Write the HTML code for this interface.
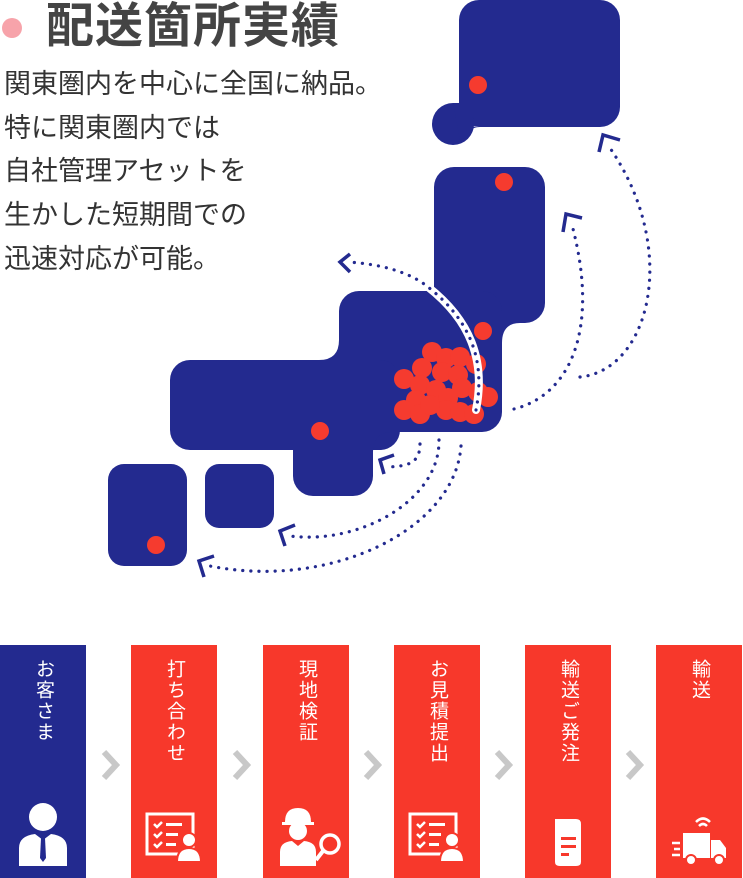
<!DOCTYPE html>
<html><head><meta charset="utf-8"><style>
body{margin:0;width:743px;height:878px;background:#fff;position:relative;overflow:hidden;font-family:"Liberation Sans","Noto Sans CJK JP",sans-serif}
.t{position:absolute;left:46px;top:-2px;font-size:48px;font-weight:bold;color:#444;line-height:58px;letter-spacing:1px}
.dot{position:absolute;left:2px;top:18px;width:20px;height:20px;border-radius:50%;background:#f7a3aa}
.p{position:absolute;left:4px;top:63px;font-size:27px;line-height:43.7px;color:#333}
.box{position:absolute;top:645px;width:86px;height:233px;background:#f7382b}
.box .v{position:absolute;top:14px;left:0;width:86px;text-align:center;color:#fff;font-size:19px;writing-mode:vertical-rl;line-height:86px;letter-spacing:2px}
.box svg{position:absolute;left:13px;top:155px}
.ch{position:absolute;top:748px;width:24px;height:34px}
</style></head><body>
<div class="dot"></div>
<div class="t">配送箇所実績</div>
<div class="p">関東圏内を中心に全国に納品。<br>特に関東圏内では<br>自社管理アセットを<br>生かした短期間での<br>迅速対応が可能。</div>

<svg width="743" height="640" style="position:absolute;left:0;top:0">
<g fill="#232a8f">
<rect x="459" y="0" width="161" height="127" rx="20"/>
<circle cx="453" cy="124" r="21"/>
<path d="M453 103 H470 V127 H480 Q470 127 470 135 L460 140Z"/>
<rect x="434" y="167" width="111" height="156" rx="20"/>
<rect x="434" y="290" width="68" height="60"/>
<path d="M502 323 H520 Q502 323 502 343Z"/>
<rect x="339" y="291" width="163" height="141" rx="20"/>
<path d="M339 340 V360 H319 Q339 360 339 340Z"/>
<rect x="170" y="360" width="230" height="90" rx="20"/>
<rect x="293" y="400" width="80" height="96" rx="20"/>
<rect x="293" y="400" width="120" height="32"/>
<path d="M373 432 V452 Q373 432 393 432Z"/>
<rect x="108" y="464" width="79" height="102" rx="16"/>
<rect x="205" y="464" width="69" height="64" rx="14"/>
</g>
<g fill="#f53b2f">
<circle cx="478" cy="85" r="9"/><circle cx="504" cy="182" r="9"/><circle cx="483" cy="331" r="9"/><circle cx="320" cy="431" r="9"/><circle cx="156" cy="545" r="9"/>
<circle cx="432" cy="352" r="10"/><circle cx="446" cy="358" r="10"/><circle cx="460" cy="357" r="10"/><circle cx="476" cy="364" r="10"/>
<circle cx="422" cy="368" r="10"/><circle cx="442" cy="372" r="10"/><circle cx="458" cy="375" r="10"/><circle cx="404" cy="379" r="10"/>
<circle cx="420" cy="385" r="10"/><circle cx="436" cy="390" r="10"/><circle cx="462" cy="388" r="10"/><circle cx="478" cy="392" r="10"/>
<circle cx="488" cy="397" r="10"/><circle cx="416" cy="400" r="10"/><circle cx="448" cy="398" r="10"/><circle cx="404" cy="410" r="10"/>
<circle cx="420" cy="414" r="10"/><circle cx="446" cy="410" r="10"/><circle cx="460" cy="412" r="10"/><circle cx="474" cy="414" r="10"/><circle cx="430" cy="405" r="10"/>
</g>
<path d="M476 410 C486 360 470 320 428 287" fill="none" stroke="#fff" stroke-width="8" stroke-linecap="round"/>
<g fill="none" stroke="#232a8f" stroke-width="3.2" stroke-linecap="round" stroke-dasharray="0.1 8">
<path d="M476 410 C486 360 470 320 428 287 C410 272 380 264 348 262"/>
<path d="M514 409 C570 395 600 330 572 225"/>
<path d="M580 377 C650 370 680 250 610 148"/>
<path d="M420 444 C420 465 405 466 388 467"/>
<path d="M439 440 C440 500 360 545 290 536"/>
<path d="M461 446 C455 530 330 590 210 566"/>
</g>
<g fill="none" stroke="#232a8f" stroke-width="3.5">
<path d="M350 254 L340 262 L350 272"/>
<path d="M563 232 L566 214 L582 218"/>
<path d="M599 152 L603 135 L620 140"/>
<path d="M384 474 L380 460 L394 455"/>
<path d="M285 546 L280 531 L295 525"/>
<path d="M204 577 L199 561 L214 556"/>
</g>
</svg>

<div class="box" style="left:0;background:#232a8f"><div class="v">お客さま</div>
<svg width="60" height="70" viewBox="0 0 60 70"><circle cx="30" cy="17" r="14" fill="#fff"/><path d="M6 66 V48 Q6 36 22 34 L30 40 L38 34 Q54 36 54 48 V66 Z" fill="#fff"/><path d="M28 38 h4 l1 20 -3 4 -3 -4z" fill="#232a8f"/></svg></div>
<div class="box" style="left:131px"><div class="v">打ち合わせ</div>
<svg width="60" height="70" viewBox="0 0 60 70"><rect x="3" y="14" width="46" height="40" fill="none" stroke="#fff" stroke-width="3"/><path d="M10 24l3 3 5-5M10 34l3 3 5-5M10 44l3 3 5-5" stroke="#fff" stroke-width="2.5" fill="none"/><rect x="22" y="23" width="16" height="3" fill="#fff"/><rect x="22" y="33" width="12" height="3" fill="#fff"/><rect x="22" y="43" width="10" height="3" fill="#fff"/><circle cx="45" cy="40" r="7" fill="#fff" stroke="#f7382b" stroke-width="2"/><path d="M33 62 Q33 48 45 48 Q57 48 57 62Z" fill="#fff" stroke="#f7382b" stroke-width="2"/></svg></div>
<div class="box" style="left:263px"><div class="v">現地検証</div>
<svg width="70" height="70" viewBox="0 0 70 70"><path d="M9 22 Q9 8 22 8 Q35 8 35 22Z" fill="#fff"/><rect x="6" y="22" width="32" height="3" fill="#fff"/><circle cx="22" cy="31" r="9" fill="#fff"/><path d="M4 66 V52 Q4 42 16 41 L22 46 L28 41 Q40 42 40 52 V66Z" fill="#fff"/><circle cx="54" cy="44" r="9" fill="none" stroke="#fff" stroke-width="3.5"/><path d="M47 51 L40 60" stroke="#fff" stroke-width="4"/></svg></div>
<div class="box" style="left:394px"><div class="v">お見積提出</div>
<svg width="60" height="70" viewBox="0 0 60 70"><rect x="3" y="14" width="46" height="40" fill="none" stroke="#fff" stroke-width="3"/><path d="M10 24l3 3 5-5M10 34l3 3 5-5M10 44l3 3 5-5" stroke="#fff" stroke-width="2.5" fill="none"/><rect x="22" y="23" width="16" height="3" fill="#fff"/><rect x="22" y="33" width="12" height="3" fill="#fff"/><rect x="22" y="43" width="10" height="3" fill="#fff"/><circle cx="45" cy="40" r="7" fill="#fff" stroke="#f7382b" stroke-width="2"/><path d="M33 62 Q33 48 45 48 Q57 48 57 62Z" fill="#fff" stroke="#f7382b" stroke-width="2"/></svg></div>
<div class="box" style="left:525px"><div class="v">輸送ご発注</div>
<svg width="60" height="70" viewBox="0 0 60 70"><path d="M17 19 H38 Q43 19 43 24 V62 Q43 66 38 66 H22 Q17 66 17 62Z" fill="#fff"/><rect x="23" y="37" width="15" height="3" fill="#f7382b"/><rect x="23" y="45" width="15" height="3" fill="#f7382b"/><rect x="23" y="53" width="8" height="3" fill="#f7382b"/></svg></div>
<div class="box" style="left:656px"><div class="v">輸送</div>
<svg width="70" height="70" viewBox="0 0 70 70"><path d="M27 22 Q34 15 41 22 M30 26 Q34 22 38 26" stroke="#fff" stroke-width="2.5" fill="none"/><rect x="14" y="33" width="27" height="25" fill="#fff"/><path d="M42 40 H51 L57 48 V58 H42Z" fill="#fff"/><circle cx="22" cy="60" r="5" fill="#fff" stroke="#f7382b" stroke-width="2"/><circle cx="50" cy="60" r="5" fill="#fff" stroke="#f7382b" stroke-width="2"/><path d="M3 43h8M5 49h6M3 55h8" stroke="#fff" stroke-width="2.5"/></svg></div>

<svg class="ch" style="left:99px" viewBox="0 0 24 34"><path d="M5 4 L17 17 L5 30" stroke="#c8c8c8" stroke-width="6" fill="none"/></svg>
<svg class="ch" style="left:230px" viewBox="0 0 24 34"><path d="M5 4 L17 17 L5 30" stroke="#c8c8c8" stroke-width="6" fill="none"/></svg>
<svg class="ch" style="left:361px" viewBox="0 0 24 34"><path d="M5 4 L17 17 L5 30" stroke="#c8c8c8" stroke-width="6" fill="none"/></svg>
<svg class="ch" style="left:492px" viewBox="0 0 24 34"><path d="M5 4 L17 17 L5 30" stroke="#c8c8c8" stroke-width="6" fill="none"/></svg>
<svg class="ch" style="left:623px" viewBox="0 0 24 34"><path d="M5 4 L17 17 L5 30" stroke="#c8c8c8" stroke-width="6" fill="none"/></svg>
</body></html>
